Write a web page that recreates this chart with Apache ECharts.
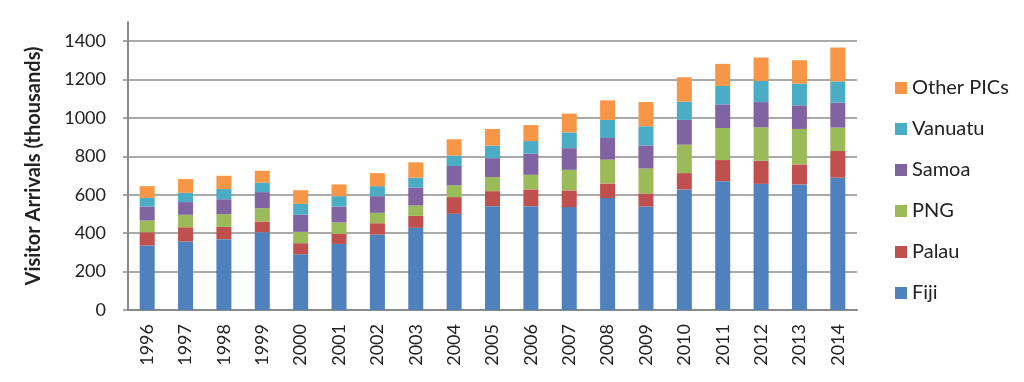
<!DOCTYPE html>
<html>
<head>
<meta charset="utf-8">
<script src="https://cdn.jsdelivr.net/npm/echarts@6/dist/echarts.min.js"></script>
<style>html,body{margin:0;padding:0;background:#fff}#c{width:1024px;height:382px}</style>
</head>
<body>
<div id="c"></div>
<script>
var years = ['1996','1997','1998','1999','2000','2001','2002','2003','2004','2005','2006','2007','2008','2009','2010','2011','2012','2013','2014'];
var fiji   = [336,357,369,405,290,344,393,428,501,541,541,536,583,539,628,671,657,654,689];
var palau  = [69,74,64,56,58,53,59,62,87,78,87,87,76,68,85,110,120,104,139];
var png    = [61,65,66,69,59,59,54,54,61,73,76,107,124,130,148,167,174,185,122];
var samoa  = [73,66,78,84,89,83,87,94,101,99,110,113,113,120,129,123,132,123,130];
var vanuatu= [45,48,53,49,57,54,52,51,55,65,66,82,94,100,95,96,110,113,111];
var other  = [61,72,69,62,71,61,68,80,84,87,83,98,102,126,127,115,122,122,176];
var yTicks = [0,200,400,600,800,1000,1200,1400];

var names = ['Fiji','Palau','PNG','Samoa','Vanuatu','Other PICs'];
var colors = ['#4F81BD','#C0504D','#9BBB59','#8064A2','#4BACC6','#F79646'];
var datas = [fiji,palau,png,samoa,vanuatu,other];

var font = 'Lato, "Open Sans", sans-serif';
var chart = echarts.init(document.getElementById('c'));
var series = names.map(function(n,i){
  return {name:n,type:'bar',stack:'total',data:datas[i],barWidth:15,
    itemStyle:{color:colors[i]},emphasis:{disabled:true}};
});
chart.setOption({
  animation:false,
  grid:{left:128,right:167,top:22,bottom:72},
  legend:{
    orient:'vertical',left:890,top:73,itemWidth:12,itemHeight:12,itemGap:21,
    data:names.slice().reverse(),
    icon:'rect',
    textStyle:{fontFamily:font,fontSize:20,lineHeight:20,color:'#222'}
  },
  xAxis:{
    type:'category',data:years,
    axisLine:{lineStyle:{color:'#8a8a8a',width:2}},
    axisTick:{alignWithLabel:true,length:5,lineStyle:{color:'#8a8a8a',width:1.5}},
    axisLabel:{rotate:90,fontFamily:font,fontSize:18,color:'#222',margin:14}
  },
  yAxis:{
    type:'value',min:0,max:1500,interval:100,
    name:'Visitor Arrivals (thousands)',nameLocation:'middle',nameGap:84,
    nameTextStyle:{fontFamily:font,fontSize:20,fontWeight:'bold',color:'#222'},
    axisLine:{show:true,lineStyle:{color:'#8a8a8a',width:2}},
    axisTick:{show:true,length:5,inside:false,customValues:yTicks,lineStyle:{color:'#8a8a8a',width:1.5}},
    axisLabel:{fontFamily:font,fontSize:18,color:'#222',margin:22,customValues:yTicks,
      formatter:function(v){return String(v);}},
    splitLine:{show:true,lineStyle:{color:'#8e8e8e',width:1.5}}
  },
  series:series
});
</script>
</body>
</html>
